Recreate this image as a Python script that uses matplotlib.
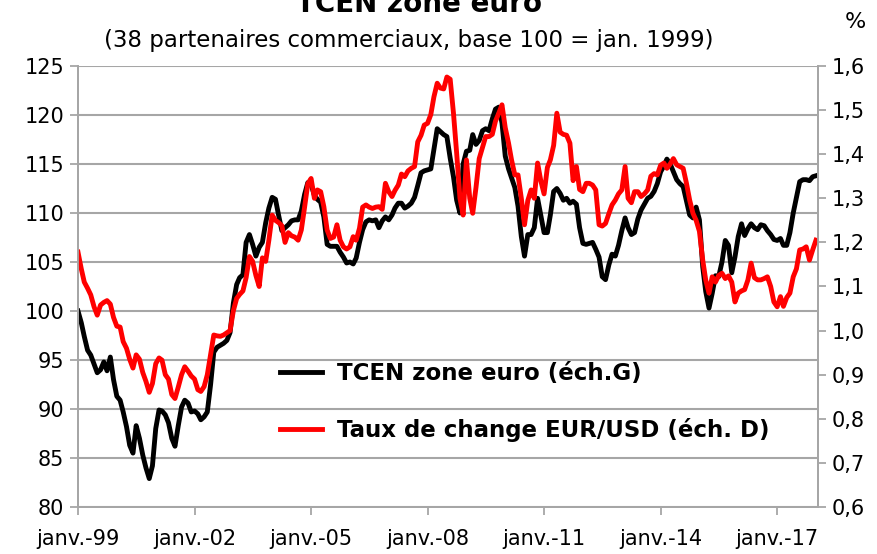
import matplotlib
matplotlib.use("Agg")
import matplotlib.pyplot as plt
import pandas as pd

# TCEN zone euro (indice, base 100 = janv. 1999), mensuel depuis janv. 1999
tcen = [
    100.0, 98.8, 97.4, 96.0, 95.5, 94.6, 93.7, 94.0, 94.8, 93.9, 95.3, 93.0,
    91.3, 90.9, 89.7, 88.2, 86.3, 85.5, 88.3, 87.0, 85.3, 84.0, 82.9, 84.2,
    88.0, 89.9, 89.8, 89.4, 88.6, 87.0, 86.2, 88.3, 90.2, 90.9, 90.6, 89.7,
    89.8, 89.5, 88.9, 89.2, 89.7, 92.5, 95.8, 96.3, 96.5, 96.7, 97.0, 97.8,
    100.8, 102.7, 103.4, 103.7, 107.0, 107.8, 106.8, 105.6, 106.5, 107.0, 109.0, 110.5,
    111.6, 111.4, 109.8, 108.2, 108.5, 108.8, 109.2, 109.3, 109.3, 110.2, 111.9, 113.1,
    112.9, 111.8, 111.4, 111.1, 109.6, 106.8, 106.6, 106.6, 106.6, 106.0, 105.5, 104.9,
    105.0, 104.8, 105.4, 107.0, 108.3, 109.1, 109.3, 109.2, 109.3, 108.5, 109.2, 109.6,
    109.3, 109.8, 110.5, 111.0, 111.0, 110.5, 110.7, 111.0, 111.6, 112.8, 114.1, 114.3,
    114.4, 114.5, 116.5, 118.6, 118.3, 118.0, 117.8, 115.6, 113.7, 111.3, 110.0, 115.0,
    116.3, 116.4, 118.0, 117.0, 117.4, 118.4, 118.6, 118.4, 119.6, 120.6, 120.8, 119.2,
    115.8, 114.5, 113.6, 112.6, 110.7, 107.6, 105.6, 107.8, 107.8, 108.5, 111.5, 109.8,
    108.0, 108.0, 109.8, 112.2, 112.5, 112.0, 111.3, 111.5, 111.0, 111.2, 110.9, 108.5,
    106.9, 106.8, 106.9, 107.0, 106.3, 105.5, 103.5, 103.2, 104.7, 105.8, 105.6, 106.7,
    108.2, 109.5, 108.5, 107.8, 108.0, 109.4, 110.3, 110.9, 111.5, 111.7, 112.2, 113.0,
    114.2, 114.8, 115.5, 115.0, 114.2, 113.4, 113.0, 112.7, 111.2, 109.8, 109.5, 110.6,
    109.3, 104.5, 102.0, 100.3, 101.8, 103.6, 103.5, 105.0, 107.2, 106.7, 103.9, 105.5,
    107.6, 108.9, 107.7, 108.4, 108.9, 108.5, 108.3, 108.8, 108.7, 108.2, 107.8, 107.3,
    107.2, 107.4, 106.7, 106.7, 108.0, 110.0, 111.6, 113.2, 113.4, 113.4, 113.3, 113.7,
    113.8,
]

# Taux de change EUR/USD, mensuel depuis janv. 1999
eurusd = [
    1.178, 1.140, 1.110, 1.096, 1.081, 1.054, 1.035, 1.058, 1.064, 1.068, 1.060, 1.030,
    1.010, 1.008, 0.975, 0.960, 0.935, 0.915, 0.945, 0.935, 0.905, 0.885, 0.860, 0.880,
    0.925, 0.938, 0.933, 0.900, 0.890, 0.855, 0.846, 0.872, 0.900, 0.918, 0.908, 0.897,
    0.890, 0.866, 0.862, 0.873, 0.900, 0.945, 0.990, 0.988, 0.987, 0.990, 0.995, 1.000,
    1.045, 1.073, 1.082, 1.090, 1.120, 1.168, 1.157, 1.125, 1.100, 1.165, 1.157, 1.205,
    1.262, 1.250, 1.245, 1.238, 1.200, 1.222, 1.215, 1.212, 1.205, 1.228, 1.280, 1.333,
    1.345, 1.300, 1.319, 1.315, 1.281, 1.228, 1.209, 1.212, 1.240, 1.205, 1.190, 1.185,
    1.190, 1.213, 1.205, 1.232, 1.280, 1.285, 1.280, 1.277, 1.280, 1.281, 1.275, 1.334,
    1.315, 1.304, 1.318, 1.330, 1.355, 1.349, 1.362, 1.368, 1.372, 1.428, 1.443, 1.466,
    1.470, 1.490, 1.530, 1.561, 1.550, 1.548, 1.575, 1.570, 1.493, 1.402, 1.300, 1.262,
    1.387, 1.300, 1.266, 1.325, 1.390, 1.415, 1.440, 1.440, 1.445, 1.475, 1.493, 1.512,
    1.460, 1.425, 1.387, 1.353, 1.353, 1.300, 1.240, 1.295, 1.319, 1.300, 1.380, 1.340,
    1.310, 1.370, 1.387, 1.420, 1.493, 1.450, 1.445, 1.443, 1.425, 1.340, 1.372, 1.320,
    1.315, 1.334, 1.334, 1.330, 1.319, 1.240, 1.237, 1.243, 1.265, 1.285, 1.296, 1.310,
    1.319, 1.372, 1.300, 1.290, 1.315, 1.315, 1.304, 1.310, 1.319, 1.350, 1.356, 1.353,
    1.375, 1.380, 1.368, 1.378, 1.390, 1.376, 1.372, 1.368, 1.334, 1.296, 1.266, 1.250,
    1.225, 1.160, 1.115, 1.085, 1.122, 1.110, 1.125, 1.130, 1.118, 1.124, 1.110, 1.065,
    1.085, 1.090, 1.093, 1.115, 1.153, 1.120, 1.115, 1.115, 1.118, 1.122, 1.100, 1.065,
    1.054, 1.077, 1.055, 1.075, 1.085, 1.122, 1.140, 1.183, 1.185, 1.190, 1.160, 1.183,
    1.205,
]

dates = pd.date_range("1999-01-01", periods=len(tcen), freq="MS")
tick_years = [1999, 2002, 2005, 2008, 2011, 2014, 2017]

grey = "#A6A6A6"
plt.rcParams["font.family"] = ["DejaVu Sans"]

fig = plt.figure(figsize=(8.77, 5.54), dpi=100)
ax = fig.add_axes([78 / 877, 1 - 507 / 554, 740 / 877, 441 / 554])
ax2 = ax.twinx()

l1, = ax.plot(dates, tcen, color="black", lw=3.5, solid_joinstyle="round")
l2, = ax2.plot(dates, eurusd, color="#FF0000", lw=3.5, solid_joinstyle="round")

ax.set_xlim(pd.Timestamp("1999-01-01"), pd.Timestamp("2018-01-20"))
ax.set_ylim(80, 125)
ax.set_yticks(range(80, 126, 5))
ax2.set_ylim(0.6, 1.6)
ax2.set_yticks([0.6 + 0.1 * i for i in range(11)])
ax2.yaxis.set_major_formatter(plt.FuncFormatter(lambda v, p: f"{v:.1f}".replace(".", ",")))

ax.set_xticks([pd.Timestamp(f"{y}-01-01") for y in tick_years])
ax.set_xticklabels([f"janv.-{y % 100:02d}" for y in tick_years])

ax.yaxis.grid(True, color=grey, lw=1.5)
ax.set_axisbelow(True)
for a in (ax, ax2):
    for s in a.spines.values():
        s.set_color(grey)
        s.set_linewidth(1.3)
    a.spines["top"].set_visible(False)
    a.tick_params(colors=grey, width=1.3, length=6, labelsize=15, labelcolor="black")
ax.tick_params(axis="x", pad=10)
ax.tick_params(axis="y", pad=4)
ax2.tick_params(axis="y", pad=4)

fig.text(0.478, 1 - 12 / 554, "TCEN zone euro", ha="center", va="baseline",
         fontsize=20, fontweight="bold")
fig.text(0.466, 1 - 40 / 554, "(38 partenaires commerciaux, base 100 = jan. 1999)",
         ha="center", va="center", fontsize=16.5)
fig.text(0.975, 1 - 22 / 554, "%", ha="center", va="center", fontsize=16)

ax2.legend([l1, l2], ["TCEN zone euro (éch.G)", "Taux de change EUR/USD (éch. D)"],
           loc="upper left", bbox_to_anchor=(0.245, 0.376), frameon=False,
           prop={"weight": "bold", "size": 16.5}, handlelength=1.85, handletextpad=0.65,
           labelspacing=1.45)

fig.savefig("out.png", dpi=100)
